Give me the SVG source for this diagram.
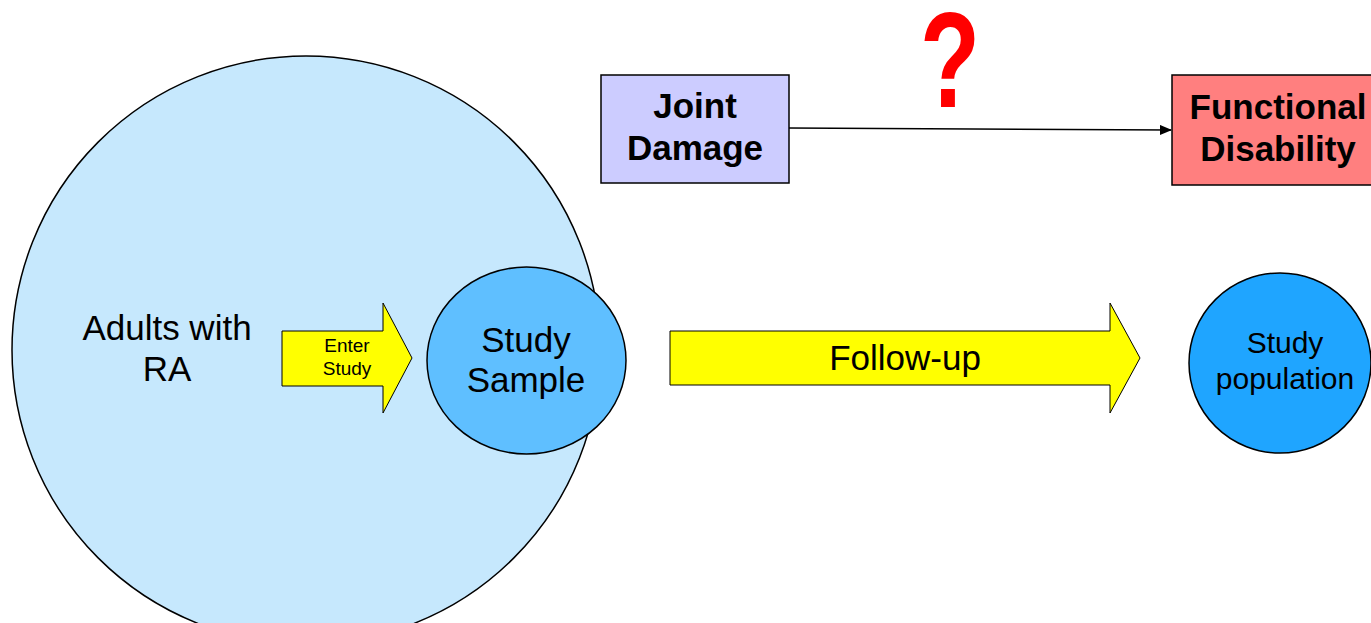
<svg xmlns="http://www.w3.org/2000/svg" width="1371" height="623" viewBox="0 0 1371 623">
<defs>
<style>
.t{font-family:"Liberation Sans",Arial,sans-serif;text-anchor:middle;fill:#000}
.b{font-weight:bold}
.s{stroke:#000;stroke-width:1.5}
</style>
<marker id="ah" markerWidth="12" markerHeight="10" refX="11" refY="5" orient="auto" markerUnits="userSpaceOnUse">
<path d="M0,0 L12,5 L0,10 Z" fill="#000"/>
</marker>
</defs>
<rect width="1371" height="623" fill="#fff"/>
<g id="adults">
<circle cx="306" cy="350" r="294" fill="#C6E8FD" class="s"/>
<text class="t" x="167" y="340" font-size="35">Adults with</text>
<text class="t" x="167" y="381" font-size="35">RA</text>
</g>
<g id="enter-study">
<path d="M282,331 L383,331 L383,303 L412,358 L383,413 L383,386 L282,386 Z" fill="#FFFF00" stroke="#000" stroke-width="1"/>
<text class="t" x="347" y="352" font-size="19">Enter</text>
<text class="t" x="347" y="375" font-size="19">Study</text>
</g>
<g id="study-sample">
<ellipse cx="526.5" cy="360.5" rx="99.5" ry="93.5" fill="#5FBFFF" class="s"/>
<text class="t" x="526" y="352" font-size="35">Study</text>
<text class="t" x="526" y="392" font-size="35">Sample</text>
</g>
<g id="follow-up">
<path d="M670,331 L1110,331 L1110,303 L1140,358 L1110,413 L1110,385 L670,385 Z" fill="#FFFF00" stroke="#000" stroke-width="1"/>
<text class="t" x="905" y="370" font-size="35">Follow-up</text>
</g>
<g id="study-population">
<ellipse cx="1280" cy="363" rx="91" ry="90" fill="#1FA5FF" class="s"/>
<text class="t" x="1285" y="353" font-size="30">Study</text>
<text class="t" x="1285" y="389" font-size="30">population</text>
</g>
<g id="joint-damage">
<rect x="601" y="75" width="188" height="108" fill="#CCCCFF" class="s"/>
<text class="t b" x="695" y="118" font-size="35">Joint</text>
<text class="t b" x="695" y="160" font-size="35">Damage</text>
</g>
<g id="functional-disability">
<rect x="1172" y="75" width="210" height="110" fill="#FF7F7F" class="s"/>
<text class="t b" x="1278" y="119" font-size="35">Functional</text>
<text class="t b" x="1278" y="161" font-size="35">Disability</text>
</g>
<g id="connectors">
<line x1="789" y1="128" x2="1171" y2="130" stroke="#000" stroke-width="1.5" marker-end="url(#ah)"/>
</g>
<g id="question">
<text x="920" y="107" font-family="Liberation Sans,Arial,sans-serif" font-weight="bold" font-size="136" textLength="60" lengthAdjust="spacingAndGlyphs" fill="#FF0000">?</text>
</g>
</svg>
